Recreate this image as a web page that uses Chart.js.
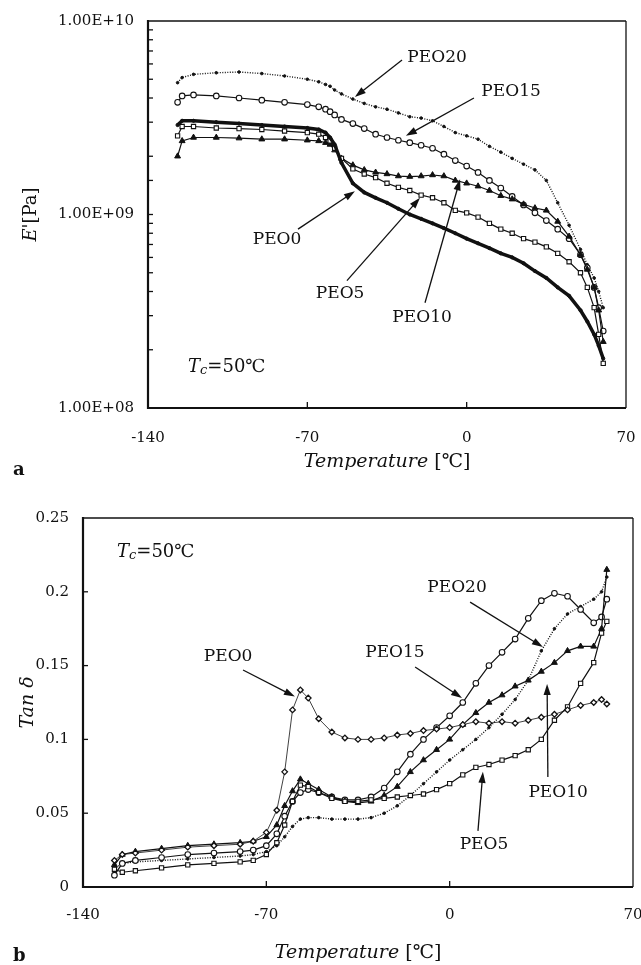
<!DOCTYPE html>
<html lang="en">
<head>
<meta charset="UTF-8" />
<title>PEO blends: storage modulus and tan delta</title>
<script src="https://cdn.jsdelivr.net/npm/chart.js@4"></script>
<style>
  body { margin: 0; background: #fff; }
  .box { position: relative; width: 641px; height: 965px; overflow: hidden; }
  canvas { position: absolute; left: 0; }
  #eChart { top: 0; }
  #tanChart { top: 470px; }
  .panel { position: absolute; left: 13px; font: bold 18px "DejaVu Serif", serif; color: #111; }
</style>
</head>
<body>
<div class="box">
  <canvas id="eChart" width="641" height="470"></canvas>
  <canvas id="tanChart" width="641" height="495"></canvas>
  <div class="panel" style="top:458px">a</div>
  <div class="panel" style="top:944px">b</div>
</div>
<script>
// ---- data ----
const names = ['PEO0', 'PEO5', 'PEO10', 'PEO15', 'PEO20'];

// (a) storage modulus E' in units of 1e9 Pa
const tempE = [-127, -125, -120, -110, -100, -90, -80, -70, -65, -62, -60, -58, -55, -50, -45, -40, -35, -30, -25, -20,
  -15, -10, -5, 0, 5, 10, 15, 20, 25, 30, 35, 40, 45, 50, 53, 56, 58, 60];
const ePEO0 = [2.9, 3.05, 3.05, 3.0, 2.95, 2.9, 2.85, 2.8, 2.75, 2.65, 2.5, 2.3, 1.85, 1.45, 1.3, 1.22, 1.15, 1.07, 1.0, 0.95,
  0.9, 0.85, 0.8, 0.75, 0.71, 0.67, 0.63, 0.6, 0.56, 0.51, 0.47, 0.42, 0.38, 0.32, 0.28, 0.24, 0.21, 0.18];
const ePEO5 = [2.55, 2.85, 2.85, 2.8, 2.78, 2.75, 2.7, 2.65, 2.6, 2.5, 2.4, 2.2, 1.95, 1.72, 1.62, 1.55, 1.45, 1.38, 1.33, 1.26,
  1.22, 1.15, 1.05, 1.02, 0.97, 0.9, 0.84, 0.8, 0.75, 0.72, 0.68, 0.63, 0.57, 0.5, 0.42, 0.33, 0.24, 0.17];
const ePEO10 = [2.0, 2.4, 2.5, 2.5, 2.48, 2.45, 2.45, 2.42, 2.4, 2.35, 2.3, 2.15, 1.95, 1.8, 1.7, 1.65, 1.62, 1.58, 1.57, 1.58,
  1.6, 1.58, 1.5, 1.45, 1.4, 1.33, 1.25, 1.2, 1.13, 1.08, 1.05, 0.92, 0.77, 0.62, 0.52, 0.42, 0.32, 0.22];
const ePEO15 = [3.8, 4.1, 4.15, 4.1, 4.0, 3.9, 3.8, 3.7, 3.6, 3.5, 3.4, 3.27, 3.1, 2.95, 2.78, 2.6, 2.5, 2.42, 2.35, 2.28,
  2.2, 2.05, 1.9, 1.78, 1.65, 1.5, 1.37, 1.24, 1.12, 1.02, 0.93, 0.84, 0.75, 0.62, 0.53, 0.42, 0.33, 0.25];
const ePEO20 = [4.8, 5.1, 5.3, 5.4, 5.45, 5.35, 5.2, 5.0, 4.85, 4.7, 4.6, 4.4, 4.2, 3.95, 3.75, 3.6, 3.5, 3.35, 3.2, 3.15,
  3.05, 2.85, 2.65, 2.55, 2.45, 2.25, 2.1, 1.95, 1.82, 1.7, 1.5, 1.15, 0.88, 0.66, 0.55, 0.47, 0.40, 0.33];

// (b) tan delta
const tempTan = [-128, -125, -120, -110, -100, -90, -80, -75, -70, -66, -63, -60, -57, -54, -50, -45, -40, -35, -30, -25,
  -20, -15, -10, -5, 0, 5, 10, 15, 20, 25, 30, 35, 40, 45, 50, 55, 58, 60];
const tanPEO0 = [0.018, 0.022, 0.023, 0.025, 0.027, 0.028, 0.029, 0.031, 0.037, 0.052, 0.078, 0.120, 0.1335, 0.128, 0.114, 0.105, 0.101, 0.100, 0.100, 0.101,
  0.103, 0.104, 0.106, 0.107, 0.108, 0.110, 0.112, 0.111, 0.112, 0.111, 0.113, 0.115, 0.117, 0.120, 0.123, 0.125, 0.127, 0.124];
const tanPEO5 = [0.012, 0.010, 0.011, 0.013, 0.015, 0.016, 0.017, 0.018, 0.022, 0.030, 0.042, 0.058, 0.069, 0.068, 0.064, 0.060, 0.058, 0.058, 0.059, 0.060,
  0.061, 0.062, 0.063, 0.066, 0.070, 0.076, 0.081, 0.083, 0.086, 0.089, 0.093, 0.100, 0.113, 0.122, 0.138, 0.152, 0.172, 0.180];
const tanPEO10 = [0.015, 0.022, 0.024, 0.026, 0.028, 0.029, 0.030, 0.031, 0.034, 0.042, 0.055, 0.065, 0.073, 0.070, 0.066, 0.061, 0.058, 0.057, 0.058, 0.062,
  0.068, 0.078, 0.086, 0.093, 0.100, 0.110, 0.118, 0.125, 0.130, 0.136, 0.140, 0.146, 0.152, 0.160, 0.163, 0.163, 0.175, 0.215];
const tanPEO15 = [0.008, 0.016, 0.018, 0.020, 0.022, 0.023, 0.024, 0.025, 0.028, 0.036, 0.048, 0.058, 0.064, 0.066, 0.064, 0.061, 0.059, 0.059, 0.061, 0.067,
  0.078, 0.090, 0.100, 0.108, 0.116, 0.125, 0.138, 0.150, 0.159, 0.168, 0.182, 0.194, 0.199, 0.197, 0.188, 0.179, 0.183, 0.195];
const tanPEO20 = [0.012, 0.016, 0.017, 0.018, 0.019, 0.020, 0.021, 0.022, 0.024, 0.028, 0.034, 0.041, 0.046, 0.047, 0.047, 0.046, 0.046, 0.046, 0.047, 0.050,
  0.055, 0.062, 0.070, 0.078, 0.086, 0.093, 0.100, 0.108, 0.117, 0.127, 0.140, 0.160, 0.175, 0.185, 0.190, 0.195, 0.200, 0.210];

// axis ticks
const tempTicks = [-140, -70, 0, 70];
const eTickValues = [1e8, 1e9, 1e10];
const eTickLabels = ['1.00E+08', '1.00E+09', '1.00E+10'];
const tanTicks = [0, 0.05, 0.1, 0.15, 0.2, 0.25];
const tanTickLabels = ['0', '0.05', '0.1', '0.15', '0.2', '0.25'];

// ---- annotation spots, in data units (label centre, arrow start, arrow tip) ----
const notesE = [
  { name: 'PEO20', lx: -13, ly: 6.5e9, fx: -28.4, fy: 6.28e9, tx: -49.1, ty: 4.05e9 },
  { name: 'PEO15', lx: 19.5, ly: 4.3e9, fx: 3.2, fy: 4.0e9, tx: -26.7, ty: 2.55e9 },
  { name: 'PEO0', lx: -83.3, ly: 7.4e8, fx: -74.1, fy: 8.4e8, tx: -49.1, ty: 1.32e9 },
  { name: 'PEO5', lx: -55.6, ly: 3.9e8, fx: -52.6, fy: 4.55e8, tx: -20.5, ty: 1.22e9 },
  { name: 'PEO10', lx: -19.6, ly: 2.95e8, fx: -18.3, fy: 3.5e8, tx: -2.9, ty: 1.52e9 }
];
const notesTan = [
  { name: 'PEO0', lx: -84.6, ly: 0.156, fx: -78.9, fy: 0.147, tx: -59.1, ty: 0.129 },
  { name: 'PEO15', lx: -20.9, ly: 0.1585, fx: -13.2, fy: 0.149, tx: 4.7, ty: 0.128 },
  { name: 'PEO20', lx: 2.8, ly: 0.2026, fx: 7.8, fy: 0.193, tx: 35.6, ty: 0.1626 },
  { name: 'PEO10', lx: 41.4, ly: 0.0637, fx: 37.5, fy: 0.0745, tx: 37.2, ty: 0.1375 },
  { name: 'PEO5', lx: 13.1, ly: 0.0285, fx: 10.8, fy: 0.038, tx: 12.7, ty: 0.078 }
];

const ink = '#111';
const serif = '"DejaVu Serif", "Liberation Serif", serif';
const tickFont = { family: serif, size: 15 };

function pts(xs, ys, k) {
  return xs.map((x, i) => ({ x: x, y: ys[i] * (k || 1) }));
}

function seg(ctx, x0, y0, x1, y1) {
  ctx.beginPath(); ctx.moveTo(x0, y0); ctx.lineTo(x1, y1); ctx.stroke();
}

function arrow(ctx, x0, y0, x1, y1) {
  const a = Math.atan2(y1 - y0, x1 - x0);
  const c = Math.cos(a), s = Math.sin(a);
  const len = 11, half = 3.6;
  ctx.lineWidth = 1.3;
  seg(ctx, x0, y0, x1 - c * len * 0.7, y1 - s * len * 0.7);
  ctx.beginPath();
  ctx.moveTo(x1, y1);
  ctx.lineTo(x1 - c * len + s * half, y1 - s * len - c * half);
  ctx.lineTo(x1 - c * len - s * half, y1 - s * len + c * half);
  ctx.closePath(); ctx.fill();
}

// draws pieces of text with different fonts on one line, left edge at x
function parts(ctx, list, x, y) {
  list.forEach(p => {
    ctx.font = p.font;
    ctx.fillText(p.text, x, y + (p.dy || 0));
    x += ctx.measureText(p.text).width;
  });
}
function partsWidth(ctx, list) {
  return list.reduce((w, p) => { ctx.font = p.font; return w + ctx.measureText(p.text).width; }, 0);
}

const xTitle = [
  { text: 'Temperature', font: 'italic 19px ' + serif },
  { text: ' [℃]', font: '19px ' + serif }
];
const tcLabel = [
  { text: 'T', font: 'italic 18px ' + serif },
  { text: 'c', font: 'italic 13px ' + serif, dy: 4 },
  { text: '=50℃', font: '18px ' + serif }
];

const framePlugin = {
  id: 'frame',
  afterDraw(chart, args, opts) {
    const { ctx, chartArea: a, scales: { x, y } } = chart;
    ctx.save();
    ctx.strokeStyle = ink; ctx.fillStyle = ink;
    ctx.lineWidth = 1.3;
    seg(ctx, a.left, a.top, a.right, a.top);
    seg(ctx, a.right, a.top, a.right, a.bottom);
    ctx.lineWidth = 2.2;
    seg(ctx, a.left, a.top - 1, a.left, a.bottom + 1);
    seg(ctx, a.left - 1, a.bottom, a.right, a.bottom);
    ctx.lineWidth = 1.3;
    y.ticks.forEach(t => {
      const py = y.getPixelForValue(t.value);
      if (py > a.top + 1 && py < a.bottom - 1) seg(ctx, a.left, py, a.left + 5, py);
    });
    x.ticks.forEach(t => {
      const px = x.getPixelForValue(t.value);
      if (px > a.left + 1 && px < a.right - 1) seg(ctx, px, a.bottom, px, a.bottom - 6);
    });
    // axis titles
    ctx.textBaseline = 'middle'; ctx.textAlign = 'left';
    const cx = (a.left + a.right) / 2;
    parts(ctx, xTitle, cx - partsWidth(ctx, xTitle) / 2, a.bottom + opts.xTitleGap);
    ctx.save();
    ctx.translate(opts.yTitleX, (a.top + a.bottom) / 2);
    ctx.rotate(-Math.PI / 2);
    parts(ctx, opts.yTitle, -partsWidth(ctx, opts.yTitle) / 2, 0);
    ctx.restore();
    ctx.restore();
  }
};

const notesPlugin = {
  id: 'notes',
  afterDatasetsDraw(chart, args, opts) {
    const { ctx, scales: { x, y } } = chart;
    ctx.save();
    ctx.fillStyle = ink; ctx.strokeStyle = ink;
    opts.items.forEach(n => {
      ctx.font = '17px ' + serif;
      ctx.textAlign = 'center'; ctx.textBaseline = 'middle';
      ctx.fillText(n.name, x.getPixelForValue(n.lx), y.getPixelForValue(n.ly));
      arrow(ctx, x.getPixelForValue(n.fx), y.getPixelForValue(n.fy), x.getPixelForValue(n.tx), y.getPixelForValue(n.ty));
    });
    ctx.textAlign = 'left'; ctx.textBaseline = 'middle';
    parts(ctx, tcLabel, x.getPixelForValue(opts.tc.x), y.getPixelForValue(opts.tc.y));
    ctx.restore();
  }
};

function series(label, data, look) {
  return Object.assign({
    label: label, data: data, showLine: true,
    borderColor: ink, backgroundColor: ink, pointBorderColor: ink,
    borderWidth: 1, pointBorderWidth: 1
  }, look);
}

function looks(top) {
  return {
    PEO0: top
      ? { borderWidth: 3.5, pointStyle: 'circle', pointRadius: 1.6, pointBackgroundColor: ink }
      : { borderWidth: 0.8, pointStyle: 'rectRot', pointRadius: 2.8, pointBackgroundColor: '#fff', pointBorderWidth: 1.3 },
    PEO5: { borderWidth: 1.2, pointStyle: 'rect', pointRadius: 3, pointBackgroundColor: '#fff', pointBorderWidth: 1.1 },
    PEO10: { borderWidth: 1.2, pointStyle: 'triangle', pointRadius: 3.4, pointBackgroundColor: ink },
    PEO15: { borderWidth: 1.2, pointStyle: 'circle', pointRadius: 2.8, pointBackgroundColor: '#fff', pointBorderWidth: 1.1 },
    PEO20: { borderWidth: 1.4, borderDash: [1, 1.5], pointStyle: 'circle', pointRadius: 1.3, pointBackgroundColor: ink }
  };
}

function fixBox(w, h) {
  return s => {
    if (w != null) s.width = w;
    if (h != null) s.height = h;
    s.paddingLeft = 0; s.paddingRight = 0; s.paddingTop = 0; s.paddingBottom = 0;
  };
}

const common = {
  responsive: false,
  animation: false,
  events: [],
  plugins: { legend: { display: false }, tooltip: { enabled: false } }
};

// ---- chart a ----
const lookA = looks(true);
const eSeries = [ePEO0, ePEO5, ePEO10, ePEO15, ePEO20];
new Chart(document.getElementById('eChart'), {
  type: 'scatter',
  data: {
    datasets: names.map((n, i) => series(n, pts(tempE, eSeries[i], 1e9), lookA[n]))
  },
  options: Object.assign({}, common, {
    layout: { padding: { top: 21, right: 15, left: 0, bottom: 0 } },
    scales: {
      x: {
        type: 'linear', min: -140, max: 70,
        afterBuildTicks: s => { s.ticks = tempTicks.map(v => ({ value: v })); },
        afterFit: fixBox(null, 62),
        grid: { display: false, drawTicks: false }, border: { display: false },
        ticks: { font: tickFont, color: ink, padding: 21, maxRotation: 0, autoSkip: false, callback: v => String(v) }
      },
      y: {
        type: 'logarithmic', min: 1e8, max: 1e10,
        afterFit: fixBox(148, null),
        grid: { display: false, drawTicks: false }, border: { display: false },
        ticks: {
          font: tickFont, color: ink, padding: 14, autoSkip: false,
          callback: v => {
            const i = eTickValues.findIndex(t => Math.abs(t - v) / t < 1e-6);
            return i >= 0 ? eTickLabels[i] : '';
          }
        }
      }
    },
    plugins: Object.assign({}, common.plugins, {
      frame: {
        xTitleGap: 54, yTitleX: 31,
        yTitle: [{ text: "E'", font: 'italic 18px ' + serif }, { text: '[Pa]', font: '18px ' + serif }]
      },
      notes: { items: notesE, tc: { x: -122.4, y: 1.63e8 } }
    })
  }),
  plugins: [framePlugin, notesPlugin]
});

// ---- chart b ----
const lookB = looks(false);
const tanSeries = [tanPEO0, tanPEO5, tanPEO10, tanPEO15, tanPEO20];
new Chart(document.getElementById('tanChart'), {
  type: 'scatter',
  data: {
    datasets: names.map((n, i) => series(n, pts(tempTan, tanSeries[i]), lookB[n]))
  },
  options: Object.assign({}, common, {
    layout: { padding: { top: 48, right: 8, left: 0, bottom: 0 } },
    scales: {
      x: {
        type: 'linear', min: -140, max: 70,
        afterBuildTicks: s => { s.ticks = tempTicks.map(v => ({ value: v })); },
        afterFit: fixBox(null, 78),
        grid: { display: false, drawTicks: false }, border: { display: false },
        ticks: { font: tickFont, color: ink, padding: 19, maxRotation: 0, autoSkip: false, callback: v => String(v) }
      },
      y: {
        type: 'linear', min: 0, max: 0.25,
        afterBuildTicks: s => { s.ticks = tanTicks.map(v => ({ value: v })); },
        afterFit: fixBox(83, null),
        grid: { display: false, drawTicks: false }, border: { display: false },
        ticks: {
          font: tickFont, color: ink, padding: 14, autoSkip: false,
          callback: v => {
            const i = tanTicks.findIndex(t => Math.abs(t - v) < 1e-9);
            return i >= 0 ? tanTickLabels[i] : '';
          }
        }
      }
    },
    plugins: Object.assign({}, common.plugins, {
      frame: {
        xTitleGap: 66, yTitleX: 28,
        yTitle: [{ text: 'Tan δ', font: 'italic 19px ' + serif }]
      },
      notes: { items: notesTan, tc: { x: -127, y: 0.227 } }
    })
  }),
  plugins: [framePlugin, notesPlugin]
});
</script>
</body>
</html>
